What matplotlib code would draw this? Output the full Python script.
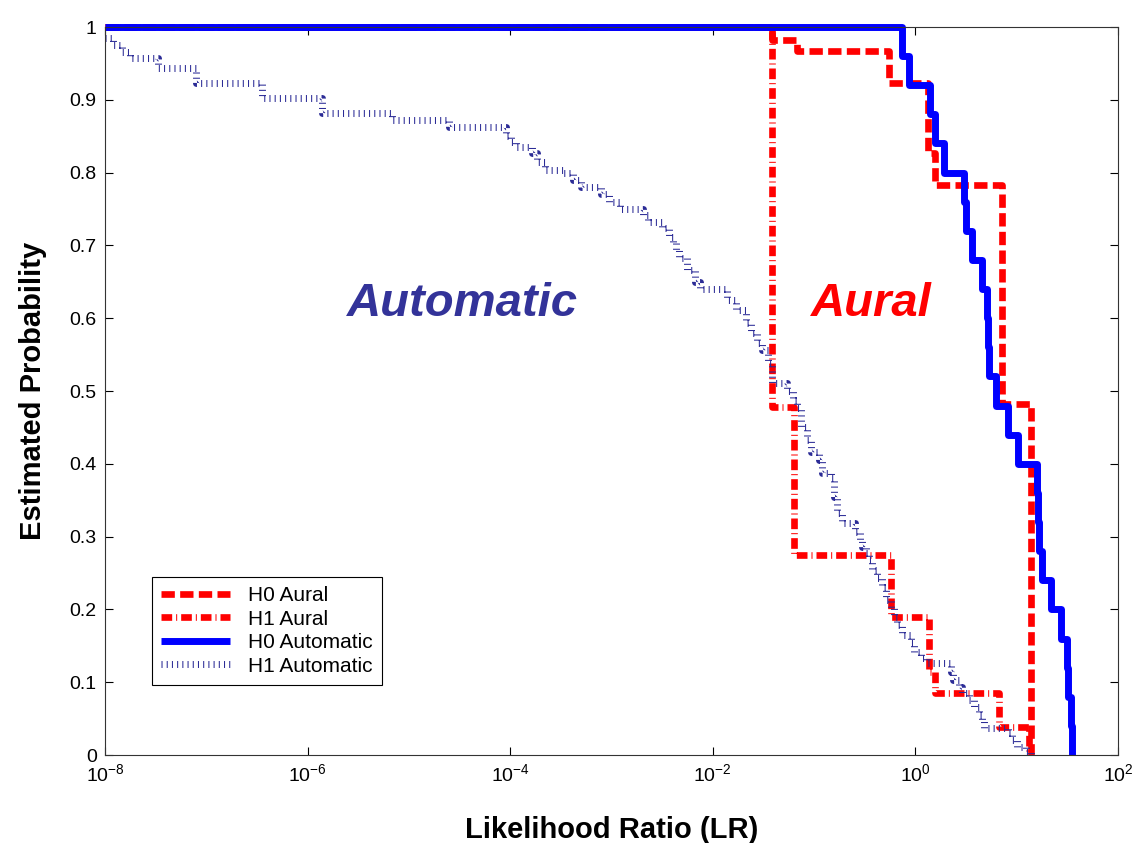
import numpy as np
import matplotlib
matplotlib.use("Agg")
import matplotlib.pyplot as plt
import matplotlib.ticker as mticker

plt.rcParams['font.family'] = ['Liberation Sans', 'DejaVu Sans']
plt.rcParams['mathtext.fontset'] = 'custom'
plt.rcParams['mathtext.rm'] = 'Liberation Sans'
plt.rcParams['mathtext.it'] = 'Liberation Sans:italic'
plt.rcParams['mathtext.bf'] = 'Liberation Sans:bold'
plt.rcParams['axes.unicode_minus'] = False

# step curves: log10(LR) where each level starts, and the level (Estimated Probability)
h0_aural_log = [-8.0, -1.42, -1.17, -0.26, 0.12, 0.19, 0.85, 1.14]
h0_aural_p = [1.0, 0.982, 0.967, 0.923, 0.827, 0.783, 0.482, 0.0]

h1_aural_log = [-8.0, -1.42, -1.20, -0.24, 0.13, 0.19, 0.83, 1.12]
h1_aural_p = [1.0, 0.478, 0.275, 0.19, 0.114, 0.085, 0.038, 0.0]

h0_auto_log = [-8.0, -0.13, -0.06, 0.14, 0.19, 0.28, 0.48, 0.50, 0.56, 0.66, 0.71,
               0.72, 0.73, 0.80, 0.91, 1.01, 1.20, 1.21, 1.22, 1.25, 1.34, 1.44,
               1.50, 1.51, 1.54, 1.55]
h0_auto_p = [1.0, 0.96, 0.92, 0.88, 0.84, 0.80, 0.76, 0.72, 0.68, 0.64, 0.60,
             0.56, 0.52, 0.48, 0.44, 0.40, 0.36, 0.32, 0.28, 0.24, 0.20, 0.16,
             0.12, 0.08, 0.04, 0.0]

h1_auto_log = [-8.00, -7.92, -7.83, -7.75, -7.48, -7.10, -6.45, -5.86, -5.17, -4.60,
               -4.04, -3.99, -3.94, -3.78, -3.74, -3.66, -3.48, -3.38, -3.30, -3.10,
               -3.02, -2.92, -2.69, -2.64, -2.50, -2.43, -2.39, -2.36, -2.33, -2.25,
               -2.18, -2.13, -1.86, -1.77, -1.67, -1.62, -1.56, -1.51, -1.46, -1.42,
               -1.27, -1.21, -1.17, -1.13, -1.07, -1.03, -0.95, -0.92, -0.83, -0.80,
               -0.77, -0.72, -0.60, -0.55, -0.53, -0.49, -0.46, -0.43, -0.38, -0.33,
               -0.29, -0.24, -0.21, -0.18, -0.13, -0.04, -0.01, 0.06, 0.11, 0.35,
               0.37, 0.43, 0.46, 0.53, 0.58, 0.63, 0.66, 0.68, 0.91, 0.95,
               1.00, 1.09, 1.14]
h1_auto_p = [0.985, 0.975, 0.966, 0.958, 0.944, 0.923, 0.902, 0.882, 0.872, 0.863,
             0.850, 0.842, 0.835, 0.827, 0.815, 0.804, 0.800, 0.790, 0.780, 0.770,
             0.760, 0.750, 0.742, 0.732, 0.724, 0.712, 0.703, 0.694, 0.683, 0.666,
             0.650, 0.640, 0.625, 0.611, 0.593, 0.580, 0.566, 0.556, 0.538, 0.511,
             0.500, 0.488, 0.477, 0.450, 0.433, 0.416, 0.405, 0.387, 0.380, 0.354,
             0.332, 0.319, 0.306, 0.295, 0.286, 0.277, 0.268, 0.254, 0.243, 0.231,
             0.213, 0.202, 0.190, 0.179, 0.165, 0.154, 0.141, 0.133, 0.126, 0.114,
             0.103, 0.093, 0.085, 0.076, 0.066, 0.055, 0.048, 0.037, 0.030, 0.021,
             0.011, 0.004, 0.0]

fig = plt.figure(figsize=(11.43, 8.43), dpi=100)
ax = fig.add_axes([105 / 1143, 88 / 843, 1013 / 1143, 728 / 843])

red = '#ff0000'
ax.step(10.0 ** np.array(h0_aural_log), h0_aural_p, where='post', color=red,
        linewidth=4.8, linestyle=(0, (2.0, 0.8)), label='H0 Aural', clip_on=False)
ax.step(10.0 ** np.array(h1_aural_log), h1_aural_p, where='post', color=red,
        linewidth=4.8, linestyle=(0, (1.6, 0.6, 0.15, 0.6)), label='H1 Aural',
        clip_on=False)
ax.step(10.0 ** np.array(h0_auto_log), h0_auto_p, where='post', color='#0000ff',
        linewidth=5, label='H0 Automatic', clip_on=False, solid_capstyle='butt')
ax.step(10.0 ** np.array(h1_auto_log), h1_auto_p, where='post', color='#2b2b96',
        linewidth=5, linestyle=(0, (0.15, 0.6)), dash_capstyle='butt',
        label='H1 Automatic')

ax.set_xscale('log')
ax.set_xlim(1e-8, 1e2)
ax.set_ylim(0, 1)
ax.xaxis.set_major_locator(mticker.FixedLocator([1e-8, 1e-6, 1e-4, 1e-2, 1e0, 1e2]))
ax.xaxis.set_minor_locator(mticker.NullLocator())
ax.yaxis.set_major_locator(mticker.FixedLocator(np.round(np.arange(0, 1.01, 0.1), 1)))
ax.yaxis.set_major_formatter(mticker.FuncFormatter(lambda v, p: f'{v:g}'))
ax.tick_params(direction='in', top=True, right=True, labelsize=14, length=6,
               width=0.8, pad=6)
for s in ax.spines.values():
    s.set_linewidth(0.8)
    s.set_color('#333333')

ax.set_xlabel('Likelihood Ratio (LR)', fontsize=21, fontweight='bold', labelpad=22)
ax.set_ylabel('Estimated Probability', fontsize=21, fontweight='bold', labelpad=16)

ax.text(10 ** -4.47, 0.62, 'Automatic', color='#333399', fontsize=34,
        fontweight='bold', fontstyle='italic', ha='center', va='center')
ax.text(10 ** -0.43, 0.62, 'Aural', color=red, fontsize=34,
        fontweight='bold', fontstyle='italic', ha='center', va='center')

leg = ax.legend(loc='lower left', bbox_to_anchor=(0.046, 0.096), fontsize=15,
                frameon=True, fancybox=False, edgecolor='black', framealpha=1,
                borderpad=0.45, labelspacing=0.22, handlelength=3.3,
                handletextpad=0.9, borderaxespad=0)
leg.get_frame().set_linewidth(0.8)

fig.savefig('out.png', dpi=100)
